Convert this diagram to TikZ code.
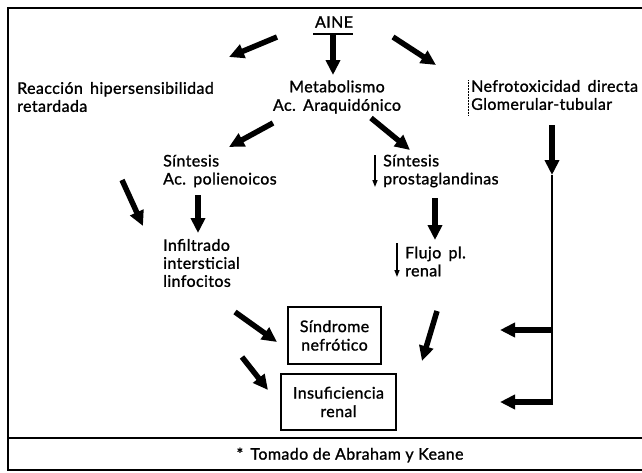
\documentclass[tikz,border=0pt]{standalone}
\usepackage{fontspec}
\setmainfont{Lato}[FakeBold=1.2, LetterSpace=2.5]
\usetikzlibrary{arrows.meta}
\newcommand{\ws}{\hspace{0.45em}}
\begin{document}
\begin{tikzpicture}[x=1pt,y=-1pt,
  txt/.style={font=\fontsize{16}{18}\selectfont, inner sep=0pt, align=left},
  ctxt/.style={font=\fontsize{16}{18.5}\selectfont, inner sep=0pt, align=center},
  bigarrow/.style={line width=5.5pt, -{Triangle[length=15pt,width=14pt]}},
  thinarrow/.style={line width=1.3pt, -{Triangle[length=7pt,width=5pt]}},
  boxnode/.style={draw, line width=2.6pt, inner sep=0pt, minimum width=#1},
  frameline/.style={line width=1.4pt}]
\useasboundingbox (0,0) rectangle (642,472);
% frame
\draw[frameline] (642,8) -- (8,8) -- (8,470) -- (642,470);
\draw[frameline] (8,438) -- (642,438);
% top
\node[ctxt] (aine) at (334,22) {AINE};
\draw[line width=1.4pt] (313,34) -- (353,34);
\coordinate (a0) at (333,35);
\node[ctxt] (meta) at (337,97) {Metabolismo\\Ac.\ws Araquidónico};
\node[txt, anchor=west] (reac) at (17,97) {Reacción\ws hipersensibilidad\\retardada};
\node[txt, anchor=west] (nefro) at (471,95) {Nefrotoxicidad\ws directa\\Glomerular-tubular};
\draw[densely dotted, line width=0.5pt] (468,80) -- (468,115);
\coordinate (a1s) at (277,37); \coordinate (a1e) at (229,57);
\coordinate (a2s) at (393,37); \coordinate (a2e) at (436,65);
\coordinate (a3e) at (333,75);
\draw[bigarrow] (a0) -- (a3e);
\draw[bigarrow] (a1s) -- (a1e);
\draw[bigarrow] (a2s) -- (a2e);
% second level
\node[txt, anchor=west] (sap) at (163,171) {Síntesis\\Ac.\ws polienoicos};
\node[txt, anchor=west] (spg) at (383,171) {Síntesis\\prostaglandinas};
\coordinate (b1s) at (273,123); \coordinate (b1e) at (229,147);
\coordinate (b2s) at (371,118); \coordinate (b2e) at (410,150);
\draw[bigarrow] (b1s) -- (b1e);
\draw[bigarrow] (b2s) -- (b2e);
\coordinate (t1s) at (375,155); \coordinate (t1e) at (375,187);
\draw[thinarrow] (t1s) -- (t1e);
% third level
\node[txt, anchor=west] (inf) at (163,263) {Infiltrado\\intersticial\\linfocitos};
\node[txt, anchor=west] (flu) at (405,261.5) {Flujo\ws pl.\\renal};
\coordinate (c1s) at (198,195); \coordinate (c1e) at (198,233);
\coordinate (c2s) at (122,180); \coordinate (c2e) at (143,226);
\coordinate (c3s) at (435,198); \coordinate (c3e) at (435,240);
\draw[bigarrow] (c1s) -- (c1e);
\draw[bigarrow] (c2s) -- (c2e);
\draw[bigarrow] (c3s) -- (c3e);
\coordinate (t2s) at (397,243); \coordinate (t2e) at (397,277);
\draw[thinarrow] (t2s) -- (t2e);
% right branch
\coordinate (r0) at (552,125); \coordinate (r1) at (552,175);
\coordinate (j1) at (552,330); \coordinate (j2) at (552,402);
\coordinate (j1e) at (500,330); \coordinate (j2e) at (500,402);
\draw[bigarrow] (r0) -- (r1);
\draw[line width=2pt] (r1) -- ([yshift=2.5pt]j2);
\draw[bigarrow] ([xshift=1pt]j1) -- (j1e);
\draw[bigarrow] ([xshift=1pt]j2) -- (j2e);
% outcome boxes
\node[boxnode=93pt, minimum height=57pt, ctxt] (sind) at (334.5,335.5) {Síndrome\\nefrótico};
\node[boxnode=115pt, minimum height=56pt, ctxt] (insu) at (338.5,402) {Insuficiencia\\renal};
\coordinate (d1s) at (235,312); \coordinate (d1e) at (277,342);
\coordinate (d2s) at (242,357); \coordinate (d2e) at (268,390);
\coordinate (d3s) at (437,311); \coordinate (d3e) at (422,361);
\draw[bigarrow] (d1s) -- (d1e);
\draw[bigarrow] (d2s) -- (d2e);
\draw[bigarrow] (d3s) -- (d3e);
% caption
\node[ctxt] (cap) at (350,455) {*\ws Tomado de Abraham y Keane};
\end{tikzpicture}
\end{document}
